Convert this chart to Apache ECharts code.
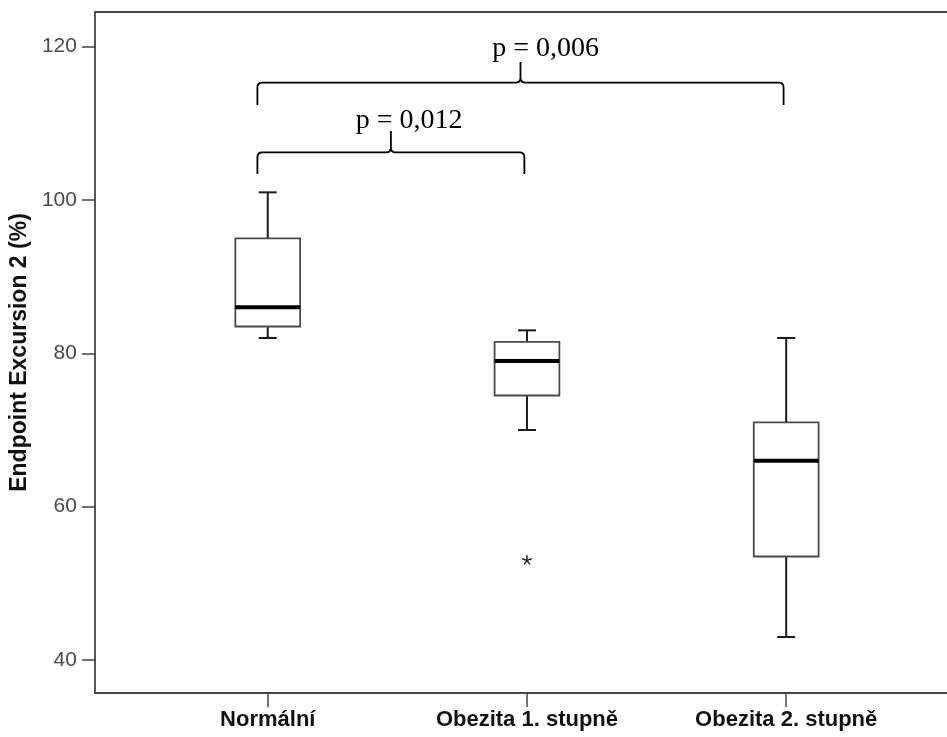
<!DOCTYPE html>
<html>
<head>
<meta charset="utf-8">
<script src="https://cdn.jsdelivr.net/npm/echarts@6/dist/echarts.min.js"></script>
<style>
html,body{margin:0;padding:0;background:#fff;}
#chart{width:947px;height:737px;}
</style>
</head>
<body>
<div id="chart"></div>
<script>
// ---- data ----
const categories = ['Normální', 'Obezita 1. stupně', 'Obezita 2. stupně'];
const whiskerLow  = [82, 70, 43];
const q1          = [83.5, 74.5, 53.5];
const median      = [86, 79, 66];
const q3          = [95, 81.5, 71];
const whiskerHigh = [101, 83, 82];
const outliers    = [[1, 53]];           // [category index, value]
const yTicks      = [40, 60, 80, 100, 120];
const xTicks      = [0, 1, 2];

// significance brackets (x in category units, y in axis units)
const bracketFrom  = [-0.04, -0.04];
const bracketTo    = [0.99, 1.99];
const bracketLevel = [106.2, 115.3];
const bracketEnd   = [103.4, 112.4];
const bracketTip   = [109.0, 118.0];
const pLabels      = ['p = 0,012', 'p = 0,006'];
const pLabelX      = [0.339, 0.866];
const pLabelY      = [110.3, 119.7];

// ---- build ----
const boxData = categories.map((c, i) => [i, whiskerLow[i], q1[i], median[i], q3[i], whiskerHigh[i]]);
const bracketData = bracketFrom.map((f, i) => [f, bracketTo[i], bracketLevel[i], bracketEnd[i], bracketTip[i], pLabelX[i], pLabelY[i], i]);

const chart = echarts.init(document.getElementById('chart'));

const AXIS_COLOR = '#444';

function renderBox(params, api) {
  const x = api.value(0);
  const pLow = api.coord([x, api.value(1)]);
  const pQ1 = api.coord([x, api.value(2)]);
  const pMed = api.coord([x, api.value(3)]);
  const pQ3 = api.coord([x, api.value(4)]);
  const pHigh = api.coord([x, api.value(5)]);
  const left = api.coord([x - 0.125, 0])[0];
  const right = api.coord([x + 0.125, 0])[0];
  const cx = pMed[0];
  const cap = 9;
  const wStyle = { stroke: '#1a1a1a', lineWidth: 2 };
  return {
    type: 'group',
    children: [
      { type: 'line', shape: { x1: cx, y1: pQ3[1], x2: cx, y2: pHigh[1] }, style: wStyle },
      { type: 'line', shape: { x1: cx - cap, y1: pHigh[1], x2: cx + cap, y2: pHigh[1] }, style: wStyle },
      { type: 'line', shape: { x1: cx, y1: pQ1[1], x2: cx, y2: pLow[1] }, style: wStyle },
      { type: 'line', shape: { x1: cx - cap, y1: pLow[1], x2: cx + cap, y2: pLow[1] }, style: wStyle },
      { type: 'rect', shape: { x: left, y: pQ3[1], width: right - left, height: pQ1[1] - pQ3[1] },
        style: { fill: '#fff', stroke: '#4a4a4a', lineWidth: 1.8 } },
      { type: 'line', shape: { x1: left, y1: pMed[1], x2: right, y2: pMed[1] },
        style: { stroke: '#000', lineWidth: 4 } }
    ]
  };
}

function renderOutlier(params, api) {
  const p = api.coord([api.value(0), api.value(1)]);
  const r = 5;
  const st = { stroke: '#222', lineWidth: 1.5 };
  const children = [];
  for (let k = 0; k < 5; k++) {
    const a = -Math.PI / 2 + k * 2 * Math.PI / 5;
    children.push({ type: 'line', shape: { x1: p[0], y1: p[1], x2: p[0] + r * Math.cos(a), y2: p[1] + r * Math.sin(a) }, style: st });
  }
  return { type: 'group', children };
}

function renderBracket(params, api) {
  const x0 = api.coord([api.value(0), 0])[0];
  const x1 = api.coord([api.value(1), 0])[0];
  const yh = api.coord([0, api.value(2)])[1];
  const yb = api.coord([0, api.value(3)])[1];
  const yt = api.coord([0, api.value(4)])[1];
  const xm = (x0 + x1) / 2;
  const tp = api.coord([api.value(5), api.value(6)]);
  const idx = api.value(7);
  const r = 5;
  const path =
    'M' + x0 + ' ' + yb +
    ' L' + x0 + ' ' + (yh + r) +
    ' Q' + x0 + ' ' + yh + ' ' + (x0 + r) + ' ' + yh +
    ' L' + (xm - r) + ' ' + yh +
    ' Q' + xm + ' ' + yh + ' ' + xm + ' ' + (yh - r) +
    ' L' + xm + ' ' + yt +
    ' M' + xm + ' ' + (yh - r) +
    ' Q' + xm + ' ' + yh + ' ' + (xm + r) + ' ' + yh +
    ' L' + (x1 - r) + ' ' + yh +
    ' Q' + x1 + ' ' + yh + ' ' + x1 + ' ' + (yh + r) +
    ' L' + x1 + ' ' + yb;
  return {
    type: 'group',
    children: [
      { type: 'path', shape: { pathData: path }, style: { fill: null, stroke: '#000', lineWidth: 1.8 } },
      { type: 'text', x: tp[0], y: tp[1],
        style: { text: pLabels[idx], fill: '#000', font: '28px "Liberation Serif", "Times New Roman", serif',
                 align: 'left', verticalAlign: 'middle' } }
    ]
  };
}

const option = {
  animation: false,
  backgroundColor: '#fff',
  grid: { left: 94, right: 0, top: 12, bottom: 44 },
  xAxis: [
    {
      type: 'value', min: -0.6667, max: 2.6204,
      axisLine: { show: true, onZero: false, lineStyle: { color: AXIS_COLOR, width: 1.8 } },
      axisTick: { show: true, customValues: xTicks, length: 14, lineStyle: { color: AXIS_COLOR, width: 1.5 } },
      axisLabel: {
        customValues: xTicks, margin: 16,
        formatter: v => categories[Math.round(v)],
        fontFamily: '"Liberation Sans", Arial, sans-serif', fontWeight: 'bold', fontSize: 22, color: '#111'
      },
      splitLine: { show: false }
    },
    {
      type: 'value', position: 'top', min: -0.6667, max: 2.6204,
      axisLine: { show: true, onZero: false, lineStyle: { color: AXIS_COLOR, width: 1.8 } },
      axisTick: { show: false }, axisLabel: { show: false }, splitLine: { show: false }
    }
  ],
  yAxis: {
    type: 'value', min: 35.7, max: 124.52,
    name: 'Endpoint Excursion 2 (%)', nameLocation: 'middle', nameGap: 62,
    nameTextStyle: { fontFamily: '"Liberation Sans", Arial, sans-serif', fontWeight: 'bold', fontSize: 23, color: '#111' },
    axisLine: { show: true, onZero: false, lineStyle: { color: AXIS_COLOR, width: 1.8 } },
    axisTick: { show: true, customValues: yTicks, length: 13, lineStyle: { color: AXIS_COLOR, width: 1.5 } },
    axisLabel: { customValues: yTicks, margin: 18, fontFamily: '"Liberation Sans", Arial, sans-serif', fontSize: 21, color: '#4a4a4a' },
    splitLine: { show: false }
  },
  series: [
    { type: 'custom', renderItem: renderBox, data: boxData, xAxisIndex: 0, yAxisIndex: 0, encode: { x: 0, y: [1, 2, 3, 4, 5] } },
    { type: 'custom', renderItem: renderOutlier, data: outliers, xAxisIndex: 0, yAxisIndex: 0, encode: { x: 0, y: 1 } },
    { type: 'custom', renderItem: renderBracket, data: bracketData, xAxisIndex: 0, yAxisIndex: 0, clip: false, encode: { x: [0, 1], y: [2, 3, 4] } }
  ]
};
chart.setOption(option);
</script>
</body>
</html>
